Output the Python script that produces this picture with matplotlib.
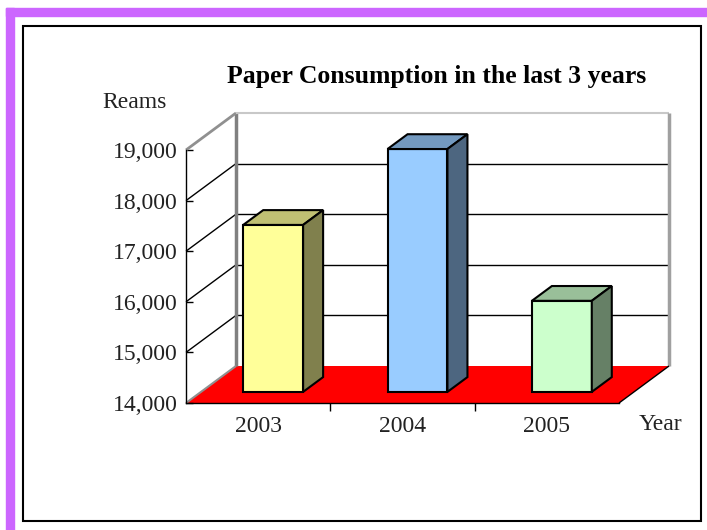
import matplotlib
matplotlib.use("Agg")
import matplotlib.pyplot as plt
from matplotlib.patches import Polygon, Rectangle
from matplotlib.ticker import FuncFormatter

# data
years = ["2003", "2004", "2005"]
reams = [17300, 18800, 15800]
y_ticks = [14000, 15000, 16000, 17000, 18000, 19000]
front_colors = ["#FFFF99", "#99CCFF", "#CCFFCC"]
top_colors = ["#C0C073", "#7399BF", "#99BF99"]
side_colors = ["#80804D", "#4D6680", "#668066"]

W, H = 707, 530
plt.rcParams['font.family'] = ['Liberation Serif', 'DejaVu Serif']

fig = plt.figure(figsize=(W / 100, H / 100), dpi=100)


def fx(x):
    return x / W


def fy(y):
    return 1 - y / H


# purple slide frame + black chart box
fig.patches.append(Rectangle((fx(6), 0), fx(14) - fx(6), fy(8), color="#CC66FF",
                             transform=fig.transFigure, figure=fig, zorder=-2))
fig.patches.append(Rectangle((fx(6), fy(16)), 1 - fx(6), fy(8) - fy(16), color="#CC66FF",
                             transform=fig.transFigure, figure=fig, zorder=-2))
fig.patches.append(Rectangle((fx(23), fy(521)), fx(701) - fx(23), fy(26) - fy(521),
                             facecolor="none", edgecolor="black", lw=1.5,
                             transform=fig.transFigure, figure=fig, zorder=-1))

# front plane of the 3d box (pixels)
left, right, top, bottom = 186, 619, 150, 403
ax = fig.add_axes([fx(left), fy(bottom), fx(right) - fx(left), fy(top) - fy(bottom)])
x0, x1 = -0.5, len(years) - 0.5
v0, v1 = y_ticks[0], y_ticks[-1]
ax.set_xlim(x0, x1)
ax.set_ylim(v0, v1)
ax.patch.set_visible(False)

# depth offset of the back wall, in pixels -> data units
dx = 50 * (x1 - x0) / (right - left)
dy = 37 * (v1 - v0) / (bottom - top)


def P(x, v, d):
    return (x + dx * d, v + dy * d)


def poly(pts, **kw):
    ax.add_patch(Polygon(pts, closed=True, clip_on=False, **kw))


def line(a, b, **kw):
    ax.plot([a[0], b[0]], [a[1], b[1]], clip_on=False, solid_capstyle="butt", **kw)


# floor
poly([P(x0, v0, 0), P(x1, v0, 0), P(x1, v0, 1), P(x0, v0, 1)], facecolor="#FF0000",
     edgecolor="none", zorder=1)
line(P(x1, v0, 0), P(x1, v0, 1), color="black", lw=1, zorder=2)
line(P(x0, v0, 0), P(x0, v0, 1), color="#909090", lw=1.5, zorder=2)

# gridlines on back and side walls
for v in y_ticks[1:-1]:
    line(P(x0, v, 1), P(x1, v, 1), color="black", lw=1, zorder=1.5)
    line(P(x0, v, 0), P(x0, v, 1), color="black", lw=1, zorder=1.5)

# wall edges
line(P(x0, v0, 1), P(x0, v1, 1), color="#808080", lw=2.5, zorder=1.6)
line(P(x0, v1, 0), P(x0, v1, 1), color="#909090", lw=2, zorder=1.6)
line(P(x0, v1, 1), P(x1, v1, 1), color="#C8C8C8", lw=1.5, zorder=1.6)
line(P(x1, v0, 1), P(x1, v1, 1), color="#A0A0A0", lw=2.5, zorder=1.6)

# bars
w = 0.415
d0, d1 = 0.3, 0.7
for i, v in enumerate(reams):
    a, b = i - w / 2, i + w / 2
    kw = dict(edgecolor="black", lw=1.5, joinstyle="miter", zorder=3 + i)
    poly([P(a, v0, d0), P(b, v0, d0), P(b, v, d0), P(a, v, d0)], facecolor=front_colors[i], **kw)
    poly([P(a, v, d0), P(b, v, d0), P(b, v, d1), P(a, v, d1)], facecolor=top_colors[i], **kw)
    poly([P(b, v0, d0), P(b, v0, d1), P(b, v, d1), P(b, v, d0)], facecolor=side_colors[i], **kw)

# axes
for s in ["top", "right"]:
    ax.spines[s].set_visible(False)
for s in ["left", "bottom"]:
    ax.spines[s].set_linewidth(1)
    ax.spines[s].set_zorder(10)
ax.set_yticks(y_ticks)
ax.yaxis.set_major_formatter(FuncFormatter(lambda v, p: f"{v:,.0f}"))
ax.tick_params(axis="y", direction="in", length=5, width=1, labelsize=17, pad=6,
               labelcolor="#222222")
ax.set_xticks(range(len(years)))
ax.set_xticklabels(years)
ax.set_xticks([i + 0.5 for i in range(len(years) - 1)], minor=True)
ax.tick_params(axis="x", which="major", length=0, labelsize=17, pad=9, labelcolor="#222222")
ax.tick_params(axis="x", which="minor", direction="out", length=6, width=1)

fig.text(fx(437), fy(76), "Paper Consumption in the last 3 years", ha="center",
         va="center", fontsize=18.5, fontweight="bold")
fig.text(fx(135), fy(102), "Reams", ha="center", va="center", fontsize=17, color="#222222")
fig.text(fx(660), fy(424), "Year", ha="center", va="center", fontsize=17, color="#222222")

fig.savefig("out.png", dpi=100)
